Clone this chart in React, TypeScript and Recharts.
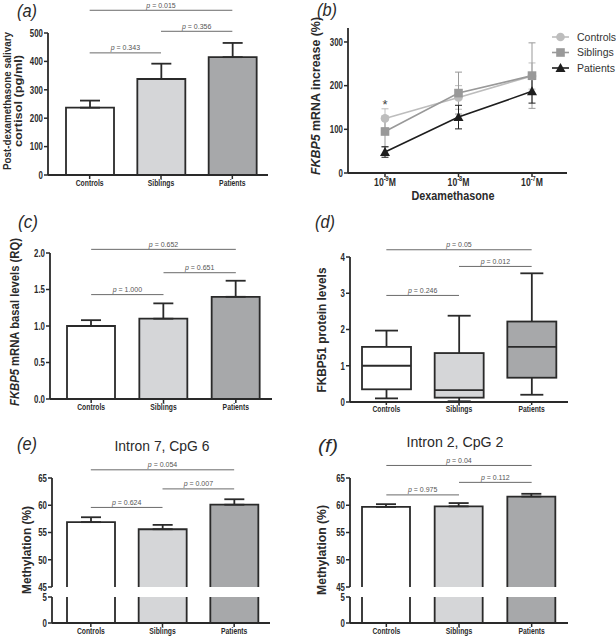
import React from 'react';
import {
  BarChart,
  Bar,
  LineChart,
  Line,
  XAxis,
  YAxis,
  ErrorBar,
  Cell,
  ReferenceLine,
  ReferenceDot,
  Legend,
} from 'recharts';

const FONT = '"Liberation Sans", Arial, Helvetica, sans-serif';
const INK = '#2a2a2a';
const SQ = 0.75; // the figure's lettering is horizontally condensed

const groups = ['Controls', 'Siblings', 'Patients'];
const groupFill = ['#ffffff', '#d5d6d8', '#a7a8aa'];
const pairs = [
  ['Controls', 'Siblings'],
  ['Siblings', 'Patients'],
  ['Controls', 'Patients'],
];

// (a) post-dexamethasone salivary cortisol (pg/ml)
const cortisolMean = [237, 338, 415];
const cortisolSem = [25, 54, 50];
const cortisolP = ['0.343', '0.356', '0.015'];
const cortisolSigY = [430, 506, 580];

// (b) FKBP5 mRNA increase (%) by dexamethasone dose
const doseExp = ['-9', '-8', '-7'];
const ctrlIncrease = [125, 173, 222];
const ctrlIncreaseSem = [22, 27, 30];
const sibIncrease = [95, 183, 223];
const sibIncreaseSem = [35, 48, 75];
const patIncrease = [48, 128, 187];
const patIncreaseSem = [12, 27, 27];

// (c) FKBP5 mRNA basal levels (RQ)
const basalMean = [1.0, 1.1, 1.4];
const basalSem = [0.08, 0.21, 0.22];
const basalP = ['1.000', '0.651', '0.652'];
const basalSigY = [1.43, 1.73, 2.05];

// (d) FKBP51 protein levels, box plots
const proteinMin = [0.1, 0.02, 0.2];
const proteinQ1 = [0.35, 0.12, 0.67];
const proteinMedian = [1.0, 0.33, 1.52];
const proteinQ3 = [1.52, 1.35, 2.22];
const proteinMax = [1.97, 2.38, 3.55];
const proteinP = ['0.246', '0.012', '0.05'];
const proteinSigY = [2.94, 3.74, 4.2];

// (e) Intron 7, CpG 6 methylation (%)
const intron7Mean = [56.9, 55.6, 60.1];
const intron7Sem = [0.9, 0.8, 1.0];
const intron7P = ['0.624', '0.007', '0.054'];
const intron7SigY = [59.6, 63.0, 66.5];

// (f) Intron 2, CpG 2 methylation (%)
const intron2Mean = [59.7, 59.8, 61.6];
const intron2Sem = [0.5, 0.6, 0.5];
const intron2P = ['0.975', '0.112', '0.04'];
const intron2SigY = [61.9, 64.2, 67.3];

const barRows = (mean: number[], sem: number[]) =>
  groups.map((g, i) => ({ group: g, mean: mean[i], range: [0, mean[i]], err: [0, sem[i]] }));

const boxRows = groups.map((g, i) => ({
  group: g,
  min: proteinMin[i],
  q1: proteinQ1[i],
  median: proteinMedian[i],
  q3: proteinQ3[i],
  max: proteinMax[i],
}));

const doseRows = doseExp.map((e, i) => ({
  exp: e,
  ctrl: ctrlIncrease[i],
  ctrlErr: ctrlIncreaseSem[i],
  sib: sibIncrease[i],
  sibErr: sibIncreaseSem[i],
  pat: patIncrease[i],
  patErr: patIncreaseSem[i],
}));

function YTick(props: any) {
  const { x, y, payload, fmt } = props;
  return (
    <text
      transform={`translate(${x},${y}) scale(${SQ},1)`}
      textAnchor="end"
      dy="0.36em"
      fontFamily={FONT}
      fontWeight="bold"
      fontSize={10.5}
      fill={INK}
    >
      {fmt ? fmt(payload.value) : payload.value}
    </text>
  );
}

function XTick(props: any) {
  const { x, y, payload } = props;
  return (
    <text
      transform={`translate(${x},${y}) scale(0.8,1)`}
      textAnchor="middle"
      dy="0.71em"
      fontFamily={FONT}
      fontWeight="bold"
      fontSize={8.5}
      fill={INK}
    >
      {payload.value}
    </text>
  );
}

function DoseTick(props: any) {
  const { x, y, payload } = props;
  return (
    <text
      transform={`translate(${x},${y}) scale(${SQ},1)`}
      textAnchor="middle"
      dy="0.71em"
      fontFamily={FONT}
      fontWeight="bold"
      fontSize={11.5}
      fill={INK}
    >
      <tspan>10</tspan>
      <tspan dy={-5} fontSize={7.5}>{payload.value}</tspan>
      <tspan dy={5}>M</tspan>
    </text>
  );
}

function PLabel(props: any) {
  const { viewBox, p } = props;
  if (!viewBox) return null;
  const cx = viewBox.x + viewBox.width / 2;
  return (
    <text x={cx} y={viewBox.y - 2.5} textAnchor="middle" fontFamily={FONT} fontSize={7} fill="#555">
      <tspan fontStyle="italic">p</tspan>
      {` = ${p}`}
    </text>
  );
}

const sigLines = (p: string[], ys: number[]) =>
  pairs.map(([a, b], i) => (
    <ReferenceLine
      key={`sig-${i}`}
      segment={[{ x: a, y: ys[i] }, { x: b, y: ys[i] }]}
      stroke="#6a6a6a"
      strokeWidth={1}
      ifOverflow="visible"
      label={<PLabel p={p[i]} />}
    />
  ));

const axisLine = { stroke: INK, strokeWidth: 1.8 };
const tickLine = { stroke: INK, strokeWidth: 1.5 };

function MeanBars(props: any) {
  const { data, width, height, margin, yWidth, xHeight, padLeft, domain, ticks, fmt, sig, barSize } = props;
  return (
    <BarChart width={width} height={height} data={data} margin={margin} barSize={barSize}>
      <XAxis
        dataKey="group"
        height={xHeight}
        padding={{ left: padLeft, right: 0 }}
        axisLine={axisLine}
        tickLine={tickLine}
        tickSize={4}
        tickMargin={1}
        interval={0}
        tick={(p: any) => <XTick {...p} />}
      />
      <YAxis
        width={yWidth}
        domain={domain}
        ticks={ticks}
        allowDataOverflow
        axisLine={axisLine}
        tickLine={tickLine}
        tickSize={4}
        tickMargin={1}
        interval={0}
        tick={(p: any) => <YTick {...p} fmt={fmt} />}
      />
      <Bar dataKey="mean" isAnimationActive={false} stroke={INK} strokeWidth={1.8}>
        {data.map((_: any, i: number) => (
          <Cell key={i} fill={groupFill[i]} />
        ))}
        <ErrorBar dataKey="err" direction="y" width={10} stroke={INK} strokeWidth={1.8} />
      </Bar>
      {sig}
    </BarChart>
  );
}

// broken y axis: an upper chart for 45-65 and a lower one for 0-5
function BrokenBars(props: any) {
  const { data, width, yWidth, right, padLeft, sig, barSize } = props;
  return (
    <>
      <div style={{ position: 'absolute', left: 0, top: 0 }}>
        <BarChart width={width} height={178} data={data} margin={{ top: 58, right, bottom: 11, left: 0 }} barSize={barSize}>
          <XAxis dataKey="group" hide padding={{ left: padLeft, right: 0 }} />
          <YAxis
            width={yWidth}
            domain={[45, 65]}
            ticks={[45, 50, 55, 60, 65]}
            allowDataOverflow
            axisLine={axisLine}
            tickLine={tickLine}
            tickSize={4}
            tickMargin={1}
            interval={0}
            tick={(p: any) => <YTick {...p} />}
          />
          <Bar dataKey="range" isAnimationActive={false} stroke={INK} strokeWidth={1.8}>
            {data.map((_: any, i: number) => (
              <Cell key={i} fill={groupFill[i]} />
            ))}
            <ErrorBar dataKey="err" direction="y" width={10} stroke={INK} strokeWidth={1.8} />
          </Bar>
          {sig}
        </BarChart>
      </div>
      <div style={{ position: 'absolute', left: 0, top: 170 }}>
        <BarChart width={width} height={49} data={data} margin={{ top: 7, right, bottom: 0, left: 0 }} barSize={barSize}>
          <XAxis
            dataKey="group"
            height={16}
            padding={{ left: padLeft, right: 0 }}
            axisLine={axisLine}
            tickLine={tickLine}
            tickSize={4}
            tickMargin={1}
            interval={0}
            tick={(p: any) => <XTick {...p} />}
          />
          <YAxis
            width={yWidth}
            domain={[0, 5]}
            ticks={[0, 5]}
            allowDataOverflow
            axisLine={axisLine}
            tickLine={tickLine}
            tickSize={4}
            tickMargin={1}
            interval={0}
            tick={(p: any) => <YTick {...p} />}
          />
          <Bar dataKey="mean" isAnimationActive={false} stroke={INK} strokeWidth={1.8}>
            {data.map((_: any, i: number) => (
              <Cell key={i} fill={groupFill[i]} />
            ))}
          </Bar>
        </BarChart>
      </div>
    </>
  );
}

function BoxShape(props: any) {
  const { x, y, width, height, payload } = props;
  const top = Math.min(y, y + height);
  const h = Math.abs(height);
  const px = (v: number) => top + (h * (payload.max - v)) / (payload.max - payload.min);
  const cx = x + width / 2;
  const cap = 11.5;
  const fill = groupFill[groups.indexOf(payload.group)];
  const s = { stroke: INK, strokeWidth: 1.8 };
  return (
    <g>
      <line x1={cx} x2={cx} y1={px(payload.max)} y2={px(payload.q3)} {...s} />
      <line x1={cx - cap} x2={cx + cap} y1={px(payload.max)} y2={px(payload.max)} {...s} />
      <line x1={cx} x2={cx} y1={px(payload.q1)} y2={px(payload.min)} {...s} />
      <line x1={cx - cap} x2={cx + cap} y1={px(payload.min)} y2={px(payload.min)} {...s} />
      <rect x={x} y={px(payload.q3)} width={width} height={px(payload.q1) - px(payload.q3)} fill={fill} {...s} />
      <line x1={x} x2={x + width} y1={px(payload.median)} y2={px(payload.median)} {...s} />
    </g>
  );
}

const lineColors = ['#bdbdbd', '#999999', '#1e1e1e'];
const seriesNames = ['Controls', 'Siblings', 'Patients'];

function marker(i: number, cx: number, cy: number, key?: string) {
  const c = lineColors[i];
  if (i === 0) return <circle key={key} cx={cx} cy={cy} r={4.3} fill={c} />;
  if (i === 1) return <rect key={key} x={cx - 4.3} y={cy - 4.3} width={8.6} height={8.6} fill={c} />;
  return <path key={key} d={`M${cx},${cy - 5}L${cx + 5},${cy + 4}L${cx - 5},${cy + 4}Z`} fill={c} />;
}

function SeriesLegend(props: any) {
  const { payload } = props;
  return (
    <svg width={66} height={50}>
      {(payload || []).map((e: any, k: number) => {
        const i = Math.max(0, seriesNames.indexOf(e.value));
        const y = 8 + i * 15.5;
        return (
          <g key={k}>
            <line x1={2} x2={19} y1={y} y2={y} stroke={lineColors[i]} strokeWidth={1.6} />
            {marker(i, 10.5, y)}
            <text x={27} y={y} dy="0.35em" fontFamily={FONT} fontSize={10.5} fill="#333">
              {e.value}
            </text>
          </g>
        );
      })}
    </svg>
  );
}

function DosePanel() {
  return (
    <LineChart width={316} height={210} data={doseRows} margin={{ top: 28, right: 49, bottom: 0, left: 0 }}>
      <XAxis
        dataKey="exp"
        height={37}
        padding={{ left: 37, right: 35 }}
        axisLine={axisLine}
        tickLine={tickLine}
        tickSize={4}
        tickMargin={1}
        interval={0}
        tick={(p: any) => <DoseTick {...p} />}
      />
      <YAxis
        width={48}
        domain={[0, 332]}
        ticks={[0, 100, 200, 300]}
        allowDataOverflow
        axisLine={axisLine}
        tickLine={tickLine}
        tickSize={4}
        tickMargin={1}
        interval={0}
        tick={(p: any) => <YTick {...p} />}
      />
      <Line
        dataKey="ctrl"
        name="Controls"
        stroke={lineColors[0]}
        strokeWidth={1.6}
        isAnimationActive={false}
        dot={(p: any) => marker(0, p.cx, p.cy, `c${p.index}`)}
      >
        <ErrorBar dataKey="ctrlErr" width={3.5} stroke={lineColors[0]} strokeWidth={1} />
      </Line>
      <Line
        dataKey="sib"
        name="Siblings"
        stroke={lineColors[1]}
        strokeWidth={1.6}
        isAnimationActive={false}
        dot={(p: any) => marker(1, p.cx, p.cy, `s${p.index}`)}
      >
        <ErrorBar dataKey="sibErr" width={3.5} stroke={lineColors[1]} strokeWidth={1} />
      </Line>
      <Line
        dataKey="pat"
        name="Patients"
        stroke={lineColors[2]}
        strokeWidth={1.6}
        isAnimationActive={false}
        dot={(p: any) => marker(2, p.cx, p.cy, `p${p.index}`)}
      >
        <ErrorBar dataKey="patErr" width={3.5} stroke={lineColors[2]} strokeWidth={1} />
      </Line>
      <ReferenceDot
        x="-9"
        y={158}
        r={0}
        ifOverflow="visible"
        label={{ value: '*', position: 'center', fontSize: 13, fill: '#444', fontFamily: FONT }}
      />
      <Legend
        layout="vertical"
        align="center"
        verticalAlign="middle"
        wrapperStyle={{ left: 250, top: 29, width: 66, height: 50 }}
        content={(p: any) => <SeriesLegend {...p} />}
      />
    </LineChart>
  );
}

function VTitle(props: any) {
  const { cx, cy, len, size, children } = props;
  return (
    <text
      transform={`translate(${cx},${cy}) rotate(-90)`}
      textAnchor="middle"
      dominantBaseline="central"
      fontSize={size}
      fontWeight="bold"
      fontFamily={FONT}
      fill={INK}
      textLength={len}
      lengthAdjust="spacingAndGlyphs"
    >
      {children}
    </text>
  );
}

function PanelTag({ x, y, t }: any) {
  return (
    <text x={x} y={y} fontSize={18} fontStyle="italic" fontFamily={FONT} fill={INK} textLength={20} lengthAdjust="spacingAndGlyphs">
      {t}
    </text>
  );
}

const fmt1 = (v: number) => v.toFixed(1);

export default function App() {
  return (
    <div style={{ position: 'absolute', left: 0, top: 0, width: 616, height: 639, background: '#fff', fontFamily: FONT }}>
      <div style={{ position: 'absolute', left: 0, top: 0 }}>
        <MeanBars
          data={barRows(cortisolMean, cortisolSem)}
          width={300}
          height={210}
          margin={{ top: 33, right: 32, bottom: 0, left: 0 }}
          yWidth={48}
          xHeight={35}
          padLeft={6}
          barSize={48}
          domain={[0, 500]}
          ticks={[0, 100, 200, 300, 400, 500]}
          sig={sigLines(cortisolP, cortisolSigY)}
        />
      </div>
      <div style={{ position: 'absolute', left: 300, top: 0 }}>
        <DosePanel />
      </div>
      <div style={{ position: 'absolute', left: 0, top: 210 }}>
        <MeanBars
          data={barRows(basalMean, basalSem)}
          width={300}
          height={210}
          margin={{ top: 43, right: 28, bottom: 0, left: 0 }}
          yWidth={50}
          xHeight={21}
          padLeft={5}
          barSize={48}
          domain={[0, 2]}
          ticks={[0, 0.5, 1, 1.5, 2]}
          fmt={fmt1}
          sig={sigLines(basalP, basalSigY)}
        />
      </div>
      <div style={{ position: 'absolute', left: 300, top: 210 }}>
        <BarChart width={316} height={210} data={boxRows} margin={{ top: 47, right: 48, bottom: 0, left: 0 }} barSize={49}>
          <XAxis
            dataKey="group"
            height={18}
            padding={{ left: 0, right: 0 }}
            axisLine={axisLine}
            tickLine={tickLine}
            tickSize={3}
            tickMargin={1}
            interval={0}
            tick={(p: any) => <XTick {...p} />}
          />
          <YAxis
            width={50}
            domain={[0, 4]}
            ticks={[0, 1, 2, 3, 4]}
            allowDataOverflow
            axisLine={axisLine}
            tickLine={tickLine}
            tickSize={4}
            tickMargin={1}
            interval={0}
            tick={(p: any) => <YTick {...p} />}
          />
          <Bar dataKey={(d: any) => [d.min, d.max]} isAnimationActive={false} shape={(p: any) => <BoxShape {...p} />} />
          {sigLines(proteinP, proteinSigY)}
        </BarChart>
      </div>
      <div style={{ position: 'absolute', left: 0, top: 420 }}>
        <BrokenBars
          data={barRows(intron7Mean, intron7Sem)}
          width={300}
          yWidth={52}
          right={30}
          padLeft={3}
          barSize={48}
          sig={sigLines(intron7P, intron7SigY)}
        />
      </div>
      <div style={{ position: 'absolute', left: 300, top: 420 }}>
        <BrokenBars
          data={barRows(intron2Mean, intron2Sem)}
          width={316}
          yWidth={50}
          right={48}
          padLeft={0}
          barSize={48}
          sig={sigLines(intron2P, intron2SigY)}
        />
      </div>

      <svg width={616} height={639} style={{ position: 'absolute', left: 0, top: 0, pointerEvents: 'none' }}>
        <PanelTag x={17} y={17} t="(a)" />
        <PanelTag x={317} y={16} t="(b)" />
        <PanelTag x={18} y={228} t="(c)" />
        <PanelTag x={315} y={228} t="(d)" />
        <PanelTag x={17} y={450} t="(e)" />
        <PanelTag x={318} y={452} t="(f)" />

        <VTitle cx={6.5} cy={101} len={138} size={11}>Post-dexamethasone salivary</VTitle>
        <VTitle cx={18} cy={101} len={92} size={11}>cortisol (pg/ml)</VTitle>
        <VTitle cx={316} cy={96} len={158} size={12.5}>
          <tspan fontStyle="italic">FKBP5</tspan> mRNA increase (%)
        </VTitle>
        <VTitle cx={15} cy={322} len={168} size={12}>
          <tspan fontStyle="italic">FKBP5</tspan> mRNA  basal levels (RQ)
        </VTitle>
        <VTitle cx={322} cy={330} len={125} size={12}>FKBP51 protein levels</VTitle>
        <VTitle cx={27} cy={550} len={88} size={12}>Methylation (%)</VTitle>
        <VTitle cx={322} cy={550} len={90} size={12}>Methylation (%)</VTitle>

        <text x={453} y={200} textAnchor="middle" fontSize={13.5} fontWeight="bold" fontFamily={FONT} fill={INK} textLength={83} lengthAdjust="spacingAndGlyphs">
          Dexamethasone
        </text>
        <text x={162} y={451} textAnchor="middle" fontSize={15.5} fontFamily={FONT} fill={INK} textLength={95} lengthAdjust="spacingAndGlyphs">
          Intron 7,  CpG 6
        </text>
        <text x={455} y={447} textAnchor="middle" fontSize={15.5} fontFamily={FONT} fill={INK} textLength={97} lengthAdjust="spacingAndGlyphs">
          Intron 2,  CpG 2
        </text>
      </svg>
    </div>
  );
}
